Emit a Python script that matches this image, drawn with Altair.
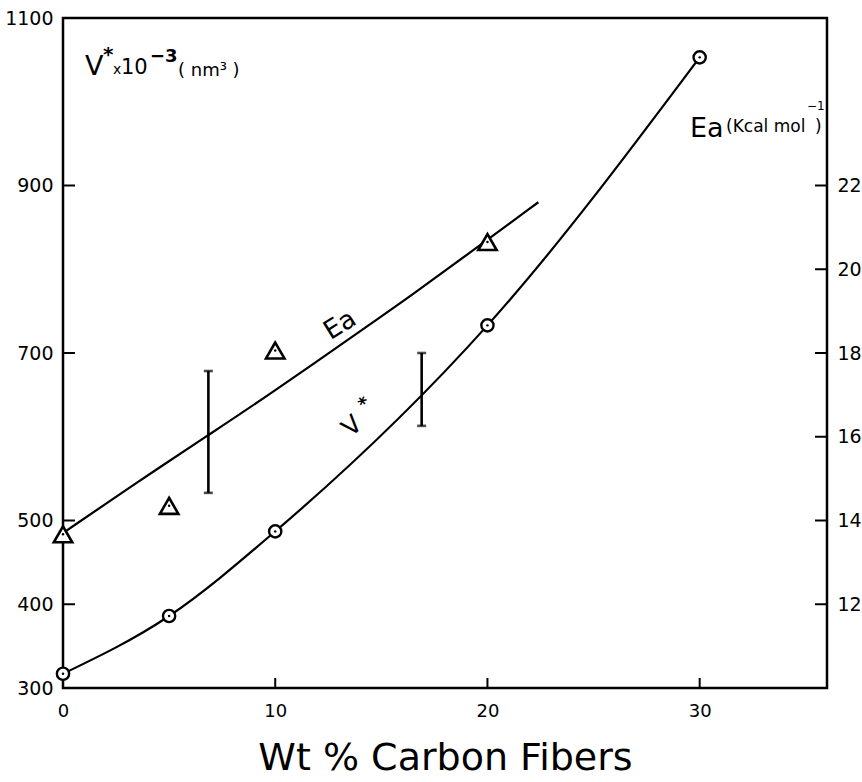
import altair as alt
import pandas as pd

# ---- data ----
wt_v = [0, 5, 10, 20, 30]
v_star = [317, 386, 487, 733, 1053]
wt_ea = [0, 5, 10, 20]
ea_vals = [13.67, 14.35, 18.06, 20.65]
ea_fit_wt = [0, 3.1, 6.84, 9.43, 14.95, 16.13, 19.34, 22.4]
ea_fit_vals = [13.70, 14.78, 16.04, 16.90, 18.86, 19.27, 20.46, 21.6]
v_err_wt = [16.9]
v_err_lo = [613]
v_err_hi = [700]
ea_err_wt = [6.85]
ea_err_lo = [14.66]
ea_err_hi = [17.57]
x_ticks = [0, 10, 20, 30]
v_ticks = [300, 400, 500, 700, 900, 1100]
ea_ticks = [12, 14, 16, 18, 20, 22]

W, H = 764, 670
FONT = "DejaVu Sans"

df_v = pd.DataFrame({"wt": wt_v, "v": v_star})
df_ea = pd.DataFrame({"wt": wt_ea, "ea": ea_vals})
df_eafit = pd.DataFrame({"wt": ea_fit_wt, "ea": ea_fit_vals})
df_verr = pd.DataFrame({"wt": v_err_wt, "lo": v_err_lo, "hi": v_err_hi})
df_eaerr = pd.DataFrame({"wt": ea_err_wt, "lo": ea_err_lo, "hi": ea_err_hi})
df_vcap = pd.DataFrame({"wt": v_err_wt * 2, "v": v_err_lo + v_err_hi})
df_eacap = pd.DataFrame({"wt": ea_err_wt * 2, "ea": ea_err_lo + ea_err_hi})
df_xt = pd.DataFrame({"wt": x_ticks[1:]})
df_vt = pd.DataFrame({"v": v_ticks})
df_eat = pd.DataFrame({"ea": ea_ticks})
one = pd.DataFrame({"k": [0]})

xs = alt.Scale(domain=[0, 36], nice=False, zero=False)
vs = alt.Scale(domain=[300, 1100], nice=False, zero=False)
es = alt.Scale(domain=[10, 26], nice=False, zero=False)

x_axis = alt.Axis(values=x_ticks, format="d", ticks=False, domain=False, grid=False,
                  labelFontSize=18, labelFont=FONT, labelPadding=14, labelColor="black",
                  labelFlush=False,
                  title="Wt % Carbon Fibers", titleFontSize=38, titleFont=FONT,
                  titleFontWeight="normal", titlePadding=19, titleColor="black")
v_axis = alt.Axis(values=v_ticks, format="d", ticks=False, domain=False, grid=False,
                  labelFontSize=19, labelFont=FONT, labelPadding=10, labelColor="black",
                  labelFlush=False, title=None, orient="left")
e_axis = alt.Axis(values=ea_ticks, format="d", ticks=False, domain=False, grid=False,
                  labelFontSize=19, labelFont=FONT, labelPadding=10, labelColor="black",
                  labelFlush=False, title=None, orient="right")


def X(field="wt:Q"):
    return alt.X(field, scale=xs, axis=x_axis)


def YV(field):
    return alt.Y(field, scale=vs, axis=v_axis)


def YE(field):
    return alt.Y(field, scale=es, axis=e_axis)


LW = 2.2

# ---- left (V*) layer ----
v_line = alt.Chart(df_v).mark_line(color="black", strokeWidth=LW, interpolate="monotone").encode(
    x=X(), y=YV("v:Q"))
v_pts = alt.Chart(df_v).mark_point(shape="circle", size=150, filled=True, fill="white",
                                   stroke="black", strokeWidth=2.4, opacity=1).encode(
    x=X(), y=YV("v:Q"))
v_dots = alt.Chart(df_v).mark_point(shape="circle", size=6, filled=True, color="black", opacity=1).encode(
    x=X(), y=YV("v:Q"))
v_err = alt.Chart(df_verr).mark_rule(color="black", strokeWidth=2.6).encode(
    x=X(), y=YV("lo:Q"), y2="hi:Q")
v_cap = alt.Chart(df_vcap).mark_tick(color="black", orient="horizontal", size=9, thickness=2.6).encode(
    x=X(), y=YV("v:Q"))
v_tk = alt.Chart(df_vt).mark_rule(color="black", strokeWidth=2).encode(
    y=YV("v:Q"), x=alt.value(0), x2=alt.value(12))
x_tk = alt.Chart(df_xt).mark_rule(color="black", strokeWidth=2).encode(
    x=X(), y=alt.value(H - 10), y2=alt.value(H))

left = alt.layer(v_line, v_pts, v_dots, v_err, v_cap, v_tk, x_tk)

# ---- right (Ea) layer ----
e_line = alt.Chart(df_eafit).mark_line(color="black", strokeWidth=LW, interpolate="basis").encode(
    x=X(), y=YE("ea:Q"))
e_pts = alt.Chart(df_ea).mark_point(shape="triangle-up", size=340, filled=True, fill="white",
                                    stroke="black", strokeWidth=2.6, opacity=1).encode(
    x=X(), y=YE("ea:Q"))
e_dots = alt.Chart(df_ea).mark_point(shape="circle", size=6, filled=True, color="black", opacity=1).encode(
    x=X(), y=YE("ea:Q"))
e_err = alt.Chart(df_eaerr).mark_rule(color="black", strokeWidth=2.6).encode(
    x=X(), y=YE("lo:Q"), y2="hi:Q")
e_cap = alt.Chart(df_eacap).mark_tick(color="black", orient="horizontal", size=9, thickness=2.6).encode(
    x=X(), y=YE("ea:Q"))
e_tk = alt.Chart(df_eat).mark_rule(color="black", strokeWidth=2).encode(
    y=YE("ea:Q"), x=alt.value(W - 12), x2=alt.value(W))

right = alt.layer(e_line, e_pts, e_dots, e_err, e_cap, e_tk)


def txt(s, x, y, size, angle=0, baseline="alphabetic", align="left", weight="normal"):
    kw = dict(text=s, fontSize=size, font=FONT, color="black", align=align,
              baseline=baseline, fontWeight=weight)
    if angle:
        kw["angle"] = angle
    return alt.Chart(one).mark_text(**kw).encode(x=alt.value(x), y=alt.value(y))


labels = alt.layer(
    # top-left axis label  V* x 10^-3 (nm^3)
    txt("V", 22, 57, 27),
    txt("*", 40, 27, 20, baseline="top", weight="bold"),
    txt("x", 50, 56, 14),
    txt("10", 58, 56, 21),
    txt("\u22123", 87, 44, 18, weight="bold"),
    txt("( nm\u00b3 )", 115, 58, 18),
    # right axis label  Ea (Kcal mol^-1)
    txt("Ea", 627, 119, 27),
    txt("(Kcal mol", 663, 114, 17),
    txt("\u22121", 744, 92, 12),
    txt(")", 752, 114, 17),
    # curve labels
    txt("Ea", 277, 307, 26, angle=328, baseline="middle", align="center"),
    txt("V", 289, 408, 25, angle=318, baseline="middle", align="center"),
    txt("*", 302, 386, 18, angle=318, baseline="middle", align="center", weight="bold"),
)

chart = alt.layer(left, right, labels).resolve_scale(y="independent").properties(
    width=W, height=H,
    padding={"left": 63, "top": 18, "right": 862 - 63 - W, "bottom": 782 - 18 - H},
    autosize=alt.AutoSizeParams(type="none"),
    background="white",
).configure_view(stroke="black", strokeWidth=2.5)

chart.save("out.html", embed_options={"renderer": "svg", "actions": False})
